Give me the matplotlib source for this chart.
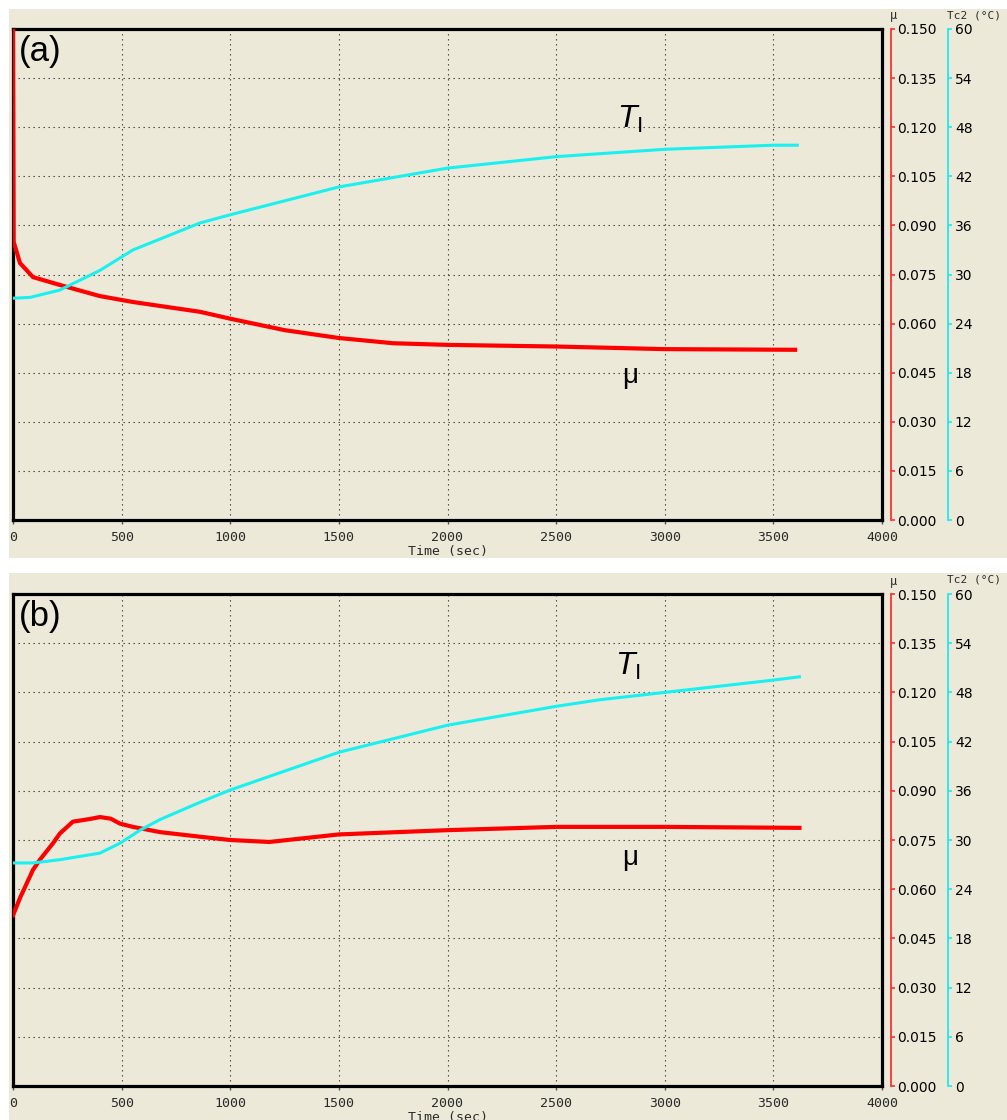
import matplotlib
matplotlib.use("Agg")
import matplotlib.pyplot as plt
from matplotlib.patches import Rectangle
import numpy as np

plt.rcParams['mathtext.fontset'] = 'custom'
plt.rcParams['mathtext.rm'] = 'Liberation Sans'
plt.rcParams['mathtext.it'] = 'Liberation Sans:italic'

# ---------------- data ----------------
# panel (a)
t_mu_a = [0, 3, 32, 92, 216, 400, 552, 861, 1000, 1250, 1500, 1750, 2000, 2500, 3000, 3600]
mu_a = [0.150, 0.085, 0.0785, 0.0742, 0.0718, 0.0684, 0.0666, 0.0636, 0.0615, 0.0580,
        0.0556, 0.0540, 0.0535, 0.0530, 0.0522, 0.0520]
t_T_a = [0, 78, 216, 400, 552, 861, 1000, 1500, 2000, 2500, 3000, 3500, 3610]
T_a = [27.1, 27.2, 28.1, 30.5, 33.0, 36.3, 37.3, 40.7, 43.0, 44.4, 45.3, 45.8, 45.8]

# panel (b)
t_mu_b = [0, 32, 92, 124, 184, 216, 276, 354, 400, 450, 492, 552, 677, 861, 1000, 1180, 1500,
          2000, 2500, 3000, 3620]
mu_b = [0.052, 0.0573, 0.0659, 0.0690, 0.0740, 0.0770, 0.0806, 0.0814, 0.0820, 0.0815, 0.0800,
        0.0790, 0.0774, 0.0760, 0.0750, 0.0744, 0.0767, 0.0780, 0.0790, 0.0790, 0.0787]
t_T_b = [0, 92, 216, 400, 492, 585, 677, 861, 1000, 1500, 2000, 2500, 2700, 3000, 3500, 3620]
T_b = [27.2, 27.2, 27.6, 28.4, 29.6, 31.2, 32.5, 34.6, 36.1, 40.7, 44.0, 46.3, 47.1, 48.0,
       49.5, 49.9]

x_ticks = [0, 500, 1000, 1500, 2000, 2500, 3000, 3500, 4000]
mu_ticks = [0.000, 0.015, 0.030, 0.045, 0.060, 0.075, 0.090, 0.105, 0.120, 0.135, 0.150]
T_ticks = [0, 6, 12, 18, 24, 30, 36, 42, 48, 54, 60]

panels = [
    dict(tag="(a)", t_mu=t_mu_a, mu=mu_a, t_T=t_T_a, T=T_a, top=29, bottom=520,
         bg=(9, 558), T_lab=(2840, 0.1225), mu_lab=(2840, 0.0440)),
    dict(tag="(b)", t_mu=t_mu_b, mu=mu_b, t_T=t_T_b, T=T_b, top=594, bottom=1086,
         bg=(573, 1120), T_lab=(2830, 0.1280), mu_lab=(2840, 0.0695)),
]

W, H = 1007, 1120
BG = '#ECE9D8'
MONO = 'DejaVu Sans Mono'
TXT = '#2a2a2a'
fig = plt.figure(figsize=(W / 100, H / 100), dpi=100, facecolor='white')

x_left, x_right = 13, 882
for p in panels:
    y0, y1 = p['bg']
    fig.patches.append(Rectangle((9 / W, 1 - y1 / H), (W - 9) / W, (y1 - y0) / H,
                                 transform=fig.transFigure, facecolor=BG,
                                 edgecolor='none', zorder=-10))
    ax = fig.add_axes([x_left / W, 1 - p['bottom'] / H, (x_right - x_left) / W,
                       (p['bottom'] - p['top']) / H])
    ax.set_facecolor(BG)
    ax.set_xlim(0, 4000)
    ax.set_ylim(0, 0.15)
    ax.set_xticks(x_ticks)
    ax.set_xticklabels([str(v) for v in x_ticks], family=MONO, fontsize=9.5, color=TXT)
    ax.set_yticks(mu_ticks)
    ax.tick_params(axis='y', length=0, labelleft=False)
    ax.tick_params(axis='x', length=3, width=1, color='#555555', pad=5)
    ax.grid(True, linestyle=(0, (1.2, 3.3)), color='#3a3a3a', linewidth=0.8)
    for s in ax.spines.values():
        s.set_linewidth(2.3)
        s.set_color('black')
    ax.set_xlabel('Time (sec)', family=MONO, fontsize=9.5, color=TXT, labelpad=1)

    ax.plot(p['t_mu'], p['mu'], color='#ff0000', linewidth=3.0, zorder=3, clip_on=True)

    # mu axis
    axm = ax.twinx()
    axm.set_ylim(0, 0.15)
    axm.set_yticks(mu_ticks)
    axm.set_yticklabels(['%.3f' % v for v in mu_ticks], family=MONO, fontsize=9.5, color=TXT)
    for k in ('left', 'top', 'bottom'):
        axm.spines[k].set_visible(False)
    axm.spines['right'].set_position(('outward', 6.5))
    axm.spines['right'].set_color('#ff3030')
    axm.spines['right'].set_linewidth(1.3)
    axm.tick_params(axis='y', length=3, width=1.2, color='#ff3030', pad=1.5)

    # temperature axis
    axt = ax.twinx()
    axt.set_ylim(0, 60)
    axt.set_yticks(T_ticks)
    axt.set_yticklabels([str(v) for v in T_ticks], family=MONO, fontsize=9.5, color=TXT)
    for k in ('left', 'top', 'bottom'):
        axt.spines[k].set_visible(False)
    axt.spines['right'].set_position(('outward', 47.5))
    axt.spines['right'].set_color('#20e8f0')
    axt.spines['right'].set_linewidth(1.3)
    axt.tick_params(axis='y', length=3, width=1.2, color='#20e8f0', pad=2)
    axt.plot(p['t_T'], p['T'], color='#19f0f0', linewidth=2.2, zorder=3)

    # panel tag and curve labels
    ax.text(0.031, 0.955, p['tag'], transform=ax.transAxes, fontsize=25,
            family='Liberation Sans', ha='center', va='center', color='black')
    ax.text(p['T_lab'][0], p['T_lab'][1], r'$T_{\mathrm{I}}$', fontsize=23,
            ha='center', va='center', color='black')
    ax.text(p['mu_lab'][0], p['mu_lab'][1], 'μ', fontsize=20, family='Liberation Sans',
            ha='center', va='center', color='black')

    # axis titles above right-hand axes
    ytop = p['top'] - 13
    fig.text(890 / W, 1 - ytop / H, 'μ', family=MONO, fontsize=8.5, color=TXT,
             ha='left', va='center')
    fig.text(947 / W, 1 - (ytop - 1) / H, 'Tc2 (°C)', family=MONO, fontsize=8, color=TXT,
             ha='left', va='center')

fig.savefig('out.png', dpi=100, facecolor='white')
